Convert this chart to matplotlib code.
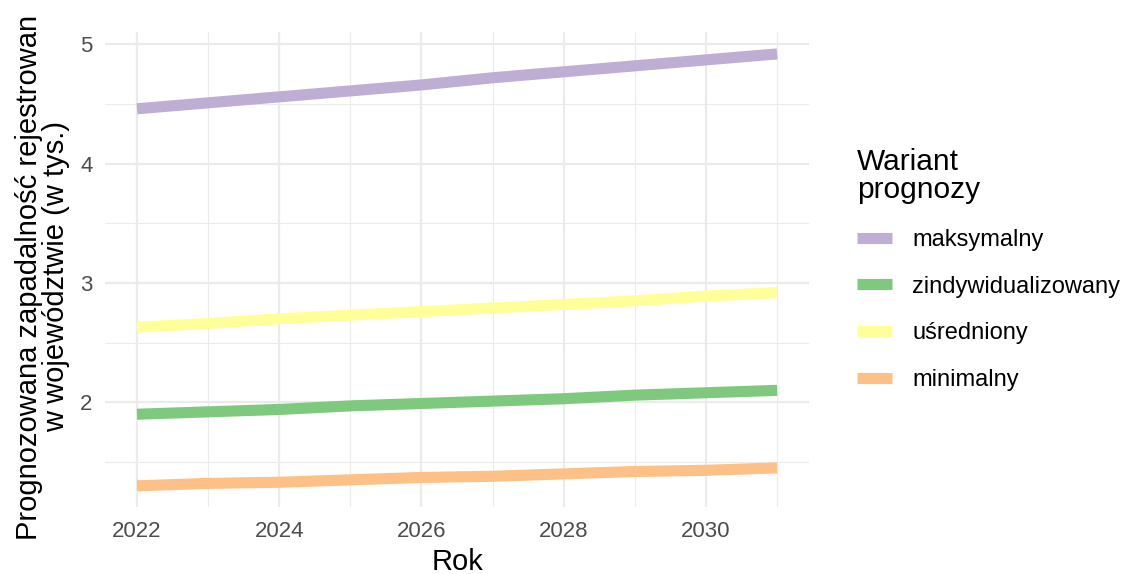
import matplotlib
matplotlib.use("Agg")
import matplotlib.pyplot as plt
from matplotlib.ticker import FixedLocator

plt.rcParams['font.family'] = ['Liberation Sans', 'DejaVu Sans']

years = [2022, 2023, 2024, 2025, 2026, 2027, 2028, 2029, 2030, 2031]
maksymalny = [4.46, 4.51, 4.56, 4.61, 4.66, 4.72, 4.77, 4.82, 4.87, 4.92]
zindywidualizowany = [1.90, 1.92, 1.94, 1.97, 1.99, 2.01, 2.03, 2.06, 2.08, 2.10]
usredniony = [2.63, 2.66, 2.70, 2.73, 2.76, 2.79, 2.82, 2.85, 2.89, 2.92]
minimalny = [1.30, 1.32, 1.33, 1.35, 1.37, 1.38, 1.40, 1.42, 1.43, 1.45]

series_names = ["maksymalny", "zindywidualizowany", "uśredniony", "minimalny"]
series_values = [maksymalny, zindywidualizowany, usredniony, minimalny]
colors = ["#BEAED4", "#7FC97F", "#FFFF99", "#FDC086"]
x_ticks = [2022, 2024, 2026, 2028, 2030]
y_ticks = [2, 3, 4, 5]

fig = plt.figure(figsize=(11.23, 5.74), dpi=100)
ax = fig.add_axes([0.0935, 0.116, 0.627, 0.8277])

handles = []
for name, vals, c in zip(series_names, series_values, colors):
    h, = ax.plot(years, vals, color=c, lw=8, solid_capstyle='butt', label=name, zorder=3)
    handles.append(h)

ax.set_xlim(2021.55, 2031.45)
ax.set_ylim(1.119, 5.101)
ax.xaxis.set_major_locator(FixedLocator(x_ticks))
ax.xaxis.set_minor_locator(FixedLocator([2023, 2025, 2027, 2029, 2031]))
ax.yaxis.set_major_locator(FixedLocator(y_ticks))
ax.yaxis.set_minor_locator(FixedLocator([1.5, 2.5, 3.5, 4.5]))
ax.grid(which='major', color='#EBEBEB', lw=1.6, zorder=0)
ax.grid(which='minor', color='#EBEBEB', lw=0.8, zorder=0)
ax.set_axisbelow(True)
for s in ax.spines.values():
    s.set_visible(False)
ax.tick_params(which='both', length=0)
ax.tick_params(axis='x', labelsize=16, labelcolor='#4D4D4D', pad=10)
ax.tick_params(axis='y', labelsize=16, labelcolor='#4D4D4D', pad=9)
ax.set_xticklabels([str(t) for t in x_ticks])
ax.set_yticklabels([str(t) for t in y_ticks])

ax.set_xlabel("Rok", fontsize=21, color='black', labelpad=4)
ax.set_ylabel("Prognozowana zapadalność rejestrowan\nw województwie (w tys.)", fontsize=21,
              color='black', linespacing=0.95)
ax.yaxis.set_label_coords(-0.05, 0.485)

leg = fig.legend(handles=handles, labels=series_names, loc='upper left',
                 bbox_to_anchor=(0.744, 0.779), frameon=False, title="Wariant\nprognozy",
                 fontsize=17, title_fontsize=21.5, alignment='left',
                 handlelength=1.5, handletextpad=0.85, labelspacing=1.05)
leg.get_title().set_linespacing(1.0)
for line in leg.get_lines():
    line.set_linewidth(8)

fig.savefig("out.png", dpi=100)
